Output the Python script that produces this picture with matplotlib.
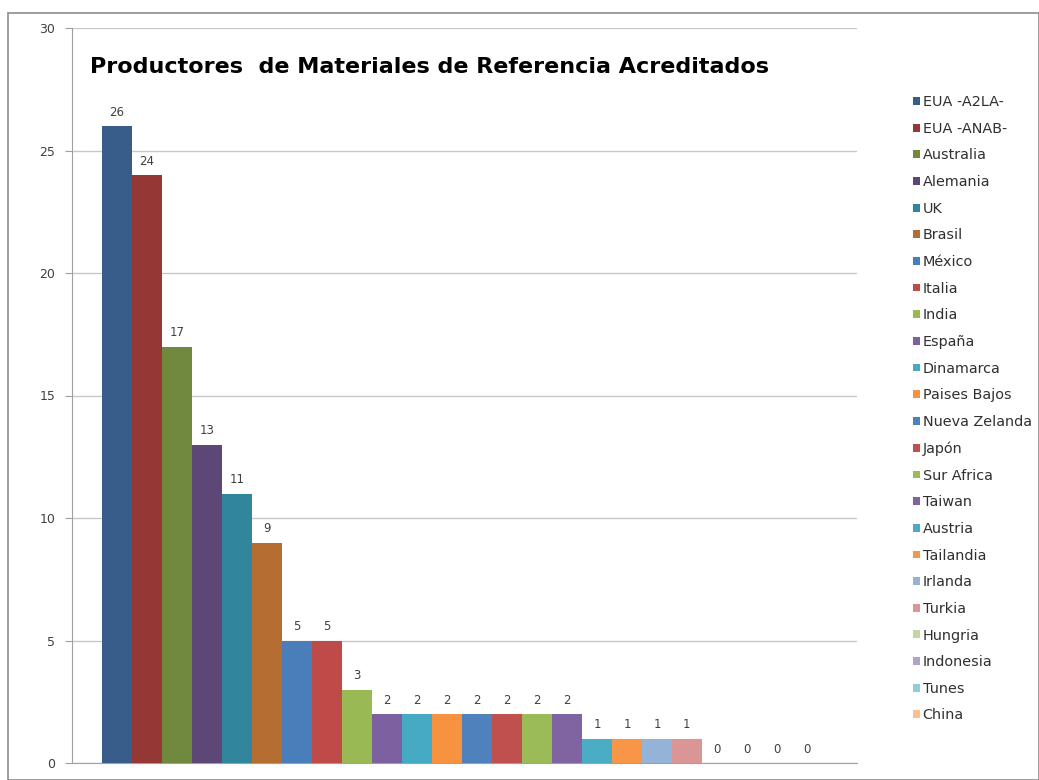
import numpy as np
import matplotlib
matplotlib.use('Agg')
import matplotlib.pyplot as plt
from matplotlib.patches import Rectangle

plt.rcParams['font.family'] = ['DejaVu Sans']

# data
paises = ['EUA -A2LA-', 'EUA -ANAB-', 'Australia', 'Alemania', 'UK', 'Brasil',
          'México', 'Italia', 'India', 'España', 'Dinamarca', 'Paises Bajos',
          'Nueva Zelanda', 'Japón', 'Sur Africa', 'Taiwan', 'Austria', 'Tailandia',
          'Irlanda', 'Turkia', 'Hungria', 'Indonesia', 'Tunes', 'China']
productores = [26, 24, 17, 13, 11, 9, 5, 5, 3, 2, 2, 2, 2, 2, 2, 2, 1, 1, 1, 1, 0, 0, 0, 0]
colores = ['#385D8A', '#953735', '#71893F', '#5C4776', '#31859C', '#B66D31',
           '#4A7EBB', '#BE4B48', '#98B954', '#7D60A0', '#46AAC5', '#F69240',
           '#4F81BD', '#C0504D', '#9BBB59', '#8064A2', '#4BACC6', '#F79646',
           '#95B3D7', '#D99694', '#C3D69B', '#B3A2C7', '#93CDDD', '#FAC090']

fig = plt.figure(figsize=(10.39, 7.80), dpi=100)
W, H = 1039, 780
ax = fig.add_axes([72 / W, 1 - 763 / H, (857 - 72) / W, (763 - 28) / H])

x = np.arange(len(paises))
for i in range(len(paises)):
    ax.bar(x[i], productores[i], width=1.0, color=colores[i], label=paises[i], zorder=3)
    ax.text(x[i], productores[i] + 0.3, str(productores[i]), ha='center', va='bottom',
            fontsize=8.5, color='#404040', zorder=4)

ax.set_xlim(-1.5, 24.67)
ax.set_ylim(0, 30)
ax.set_yticks(range(0, 31, 5))
ax.set_xticks([])
ax.yaxis.grid(True, color='#C8C8C8', linewidth=1, zorder=0)
ax.tick_params(axis='y', labelsize=9, labelcolor='#404040', color='#A0A0A0', length=5, pad=7)
for s in ['top', 'right']:
    ax.spines[s].set_visible(False)
for s in ['left', 'bottom']:
    ax.spines[s].set_color('#A0A0A0')

fig.text(90 / W, 1 - 67 / H, 'Productores  de Materiales de Referencia Acreditados',
         fontsize=16, fontweight='bold', ha='left', va='center', color='black')

leg = fig.legend(loc='upper left', bbox_to_anchor=(906 / W, 1 - 88 / H), frameon=False,
                 fontsize=10.4, handlelength=0.45, handleheight=0.45, handletextpad=0.2,
                 labelspacing=0.875, borderpad=0)
for t in leg.get_texts():
    t.set_color('#303030')

fig.patches.append(Rectangle((8 / W, 0), 1 - 8 / W, 1 - 13 / H, transform=fig.transFigure,
                             fill=False, edgecolor='#8C8C8C', linewidth=1.2))

fig.savefig('out.png', dpi=100)
